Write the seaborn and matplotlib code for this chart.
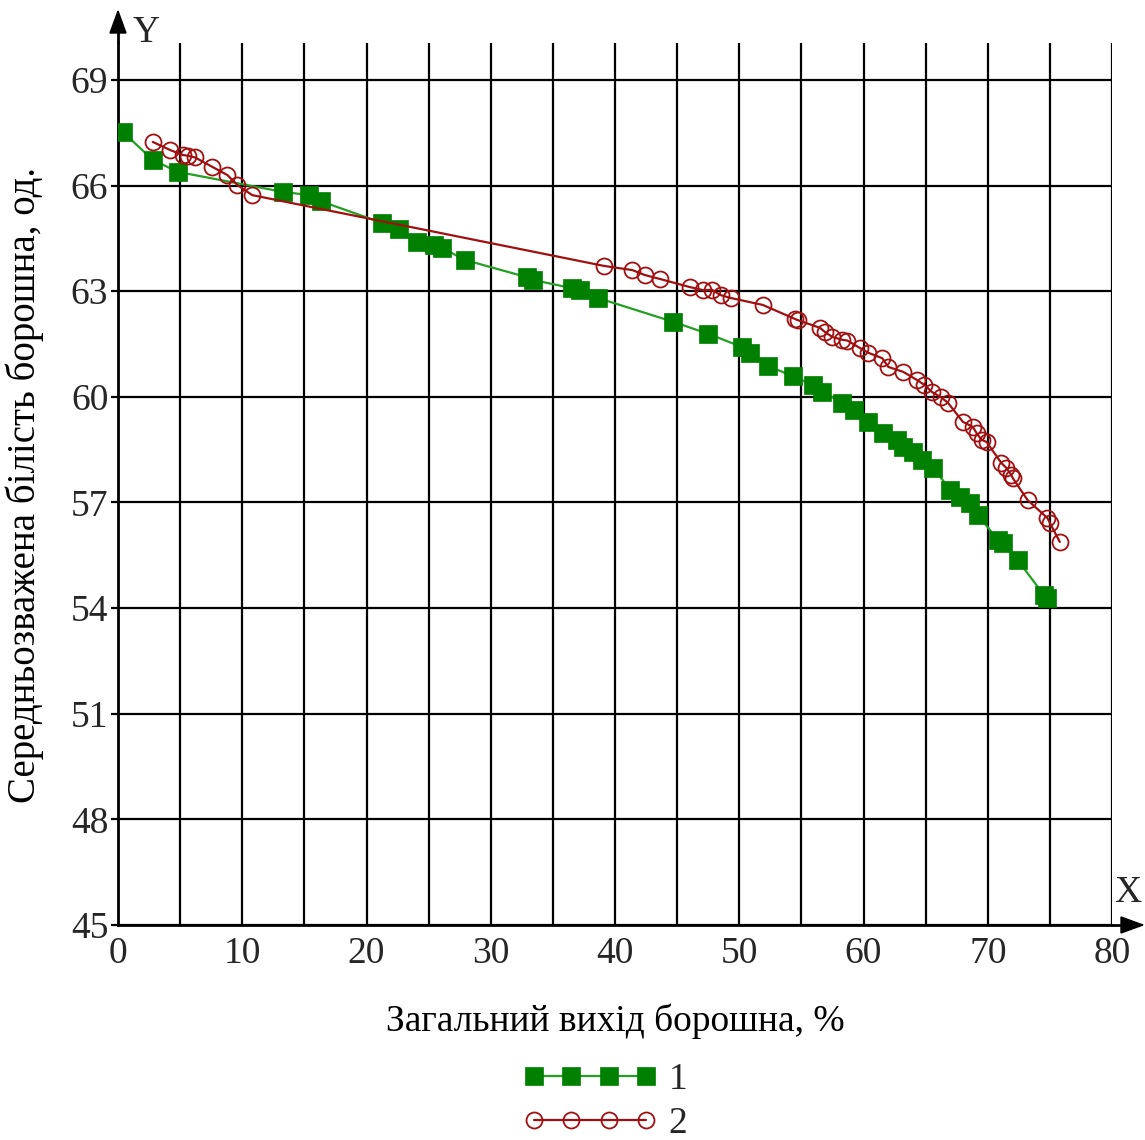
import matplotlib
matplotlib.use("Agg")
import matplotlib.pyplot as plt
import seaborn as sns
import pandas as pd
from matplotlib.ticker import MultipleLocator
from matplotlib.lines import Line2D
from matplotlib.patches import Polygon

# ---- data ----
x1 = [0.4, 2.8, 4.8, 13.3, 15.4, 16.3, 21.25, 22.6, 24.1, 25.4, 26.1, 27.9, 32.9, 33.4,
      36.5, 37.2, 38.6, 44.7, 47.5, 50.2, 50.9, 52.3, 54.3, 55.9, 56.7, 58.3, 59.2, 60.4,
      61.6, 62.7, 63.2, 64.0, 64.7, 65.6, 67.0, 67.8, 68.6, 69.2, 70.8, 71.2, 72.4, 74.5, 74.8]
y1 = [67.52, 66.73, 66.39, 65.82, 65.73, 65.56, 64.94, 64.77, 64.40, 64.30, 64.23, 63.89, 63.40, 63.32,
      63.09, 63.04, 62.81, 62.13, 61.79, 61.42, 61.25, 60.88, 60.59, 60.34, 60.14, 59.83, 59.63, 59.29,
      58.97, 58.78, 58.58, 58.43, 58.21, 57.98, 57.36, 57.16, 56.99, 56.65, 55.94, 55.85, 55.37, 54.38, 54.30]

x2 = [2.8, 4.2, 5.2, 5.6, 6.2, 7.6, 8.8, 9.6, 10.8, 39.1, 41.4, 42.4, 43.6, 46.0, 47.1, 47.8,
      48.5, 49.3, 51.9, 54.5, 54.7, 56.5, 56.9, 57.5, 58.3, 58.7, 59.7, 60.4, 61.5, 62.0, 63.2,
      64.3, 64.9, 65.5, 66.2, 66.8, 68.0, 68.8, 69.1, 69.5, 69.9, 71.1, 71.5, 71.9, 72.0, 73.2,
      74.8, 75.0, 75.8]
y2 = [67.24, 67.01, 66.87, 66.85, 66.80, 66.53, 66.30, 66.02, 65.73, 63.72, 63.60, 63.46, 63.35, 63.12,
      63.03, 63.04, 62.89, 62.81, 62.61, 62.21, 62.18, 61.96, 61.84, 61.70, 61.62, 61.60, 61.39, 61.25,
      61.10, 60.85, 60.71, 60.48, 60.34, 60.14, 60.00, 59.83, 59.29, 59.15, 58.97, 58.78, 58.72, 58.12,
      57.98, 57.78, 57.70, 57.07, 56.56, 56.42, 55.88]

series_labels = ["1", "2"]
x_ticks = [0, 10, 20, 30, 40, 50, 60, 70, 80]
y_ticks = [45, 48, 51, 54, 57, 60, 63, 66, 69]
xlabel = "Загальний вихід борошна, %"
ylabel = "Середньозважена білість борошна, од."

sns.set_theme(style="white")
plt.rcParams['font.family'] = ['Liberation Serif', 'DejaVu Serif']

W, H = 1145, 1140
fig = plt.figure(figsize=(W / 100, H / 100), dpi=100)
ax = fig.add_axes([118/W, (H-925)/H, 994/W, (925-43)/H])

df1 = pd.DataFrame({"x": x1, "y": y1})
df2 = pd.DataFrame({"x": x2, "y": y2})

sns.lineplot(data=df1, x="x", y="y", ax=ax, sort=False, color="#22a022", lw=1.6,
             marker="s", markersize=13, markerfacecolor="#008000", markeredgecolor="#008000",
             markeredgewidth=0.5, label=series_labels[0], zorder=4)
sns.lineplot(data=df2, x="x", y="y", ax=ax, sort=False, color="#a01010", lw=1.6,
             marker="o", markersize=11.5, markerfacecolor="none", markeredgecolor="#a01010",
             markeredgewidth=1.3, label=series_labels[1], zorder=5)

ax.set_xlim(0, 80)
ax.set_ylim(45, 70.05)
ax.xaxis.set_minor_locator(MultipleLocator(5))
ax.set_xticks(x_ticks)
ax.set_yticks(y_ticks)
ax.grid(True, which="both", axis="x", color="black", lw=1.6)
ax.grid(True, which="major", axis="y", color="black", lw=1.6)
ax.set_axisbelow(True)

for s in ["top", "right"]:
    ax.spines[s].set_visible(False)
for s in ["left", "bottom"]:
    ax.spines[s].set_color("black")
    ax.spines[s].set_linewidth(2)

ax.tick_params(axis="y", which="major", length=5, width=1.6, color="black",
               labelsize=27, pad=2, left=True)
ax.tick_params(axis="x", which="both", length=0, labelsize=27, pad=8)

ax.set_xlabel(xlabel, fontsize=27, labelpad=24, color="black")
ax.set_ylabel(ylabel, fontsize=28, color="black")
ax.yaxis.set_label_coords((44 - 118) / 994, (925 - 485) / 882)

# axis arrows (figure pixel coordinates -> fraction)
def fx(px):
    return px / W

def fy(py):
    return 1 - py / H

fig.add_artist(Line2D([fx(118), fx(118)], [fy(43), fy(25)], color="black", lw=2))
fig.add_artist(Polygon([(fx(118), fy(11)), (fx(110), fy(33)), (fx(126), fy(33))],
                       closed=True, color="black"))
fig.add_artist(Line2D([fx(1112), fx(1125)], [fy(925), fy(925)], color="black", lw=2))
fig.add_artist(Polygon([(fx(1143), fy(925)), (fx(1121), fy(917)), (fx(1121), fy(933))],
                       closed=True, color="black"))
fig.text(133/W, 1 - 33/H, "Y", fontsize=27, ha="left", va="center")
fig.text(1128/W, 1 - 893/H, "X", fontsize=27, ha="center", va="center")

leg = ax.legend(loc="center", bbox_to_anchor=(605/W, 1 - 1102/H), bbox_transform=fig.transFigure,
                frameon=False, fontsize=27, numpoints=4, handlelength=3.6, handletextpad=0.3,
                labelspacing=0.25)

fig.savefig("out.png", dpi=100, facecolor="white")
